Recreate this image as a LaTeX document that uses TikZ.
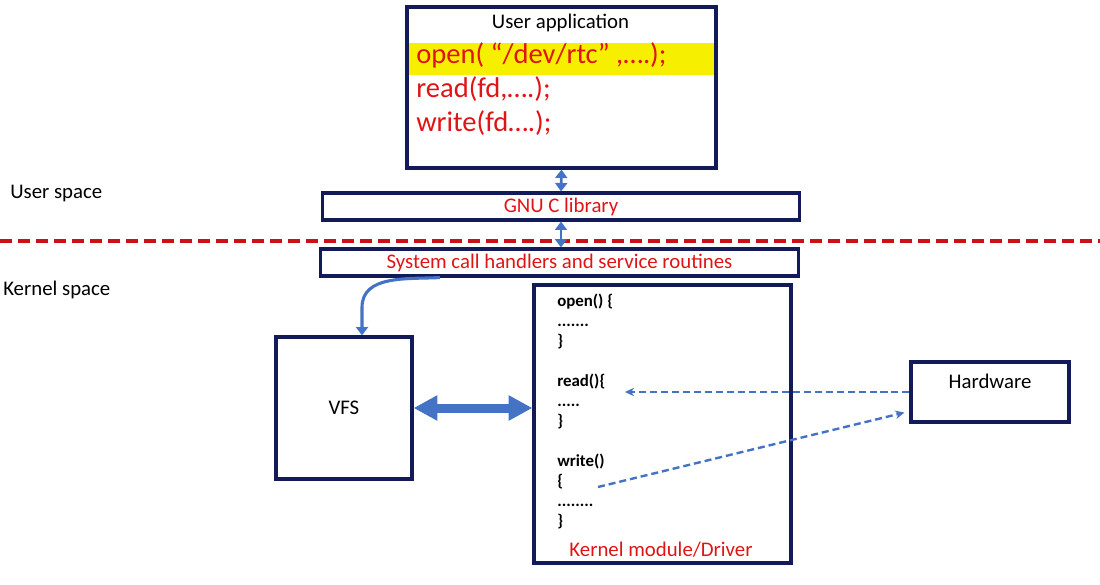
\documentclass[tikz,border=0pt]{standalone}
\usepackage{fontspec}
\setmainfont{Carlito}
\usetikzlibrary{arrows.meta, calc}

\definecolor{boxnavy}{RGB}{18,26,88}
\definecolor{codered}{RGB}{224,20,20}
\definecolor{linered}{RGB}{204,16,24}
\definecolor{arrowblue}{RGB}{68,114,196}
\definecolor{marker}{RGB}{246,240,0}

\tikzset{
  box/.style={draw=boxnavy, line width=2.2pt, inner sep=0pt},
  lbl/.style={font=\fontsize{14.8}{17}\selectfont, inner sep=0pt},
  redlbl/.style={lbl, text=codered},
  codeln/.style={font=\fontsize{20.3}{24}\selectfont, text=codered, anchor=base west, inner sep=0pt},
  updown/.style={arrowblue, line width=2pt, {Triangle[width=8.5pt,length=6pt]}-{Triangle[width=8.5pt,length=6pt]}},
  signal/.style={arrowblue, line width=1.7pt, dash pattern=on 5pt off 2.8pt, -{Stealth[length=6.5pt,width=6pt]}}
}

\begin{document}
\begin{tikzpicture}[x=0.025cm, y=-0.025cm]
    \useasboundingbox (0,0) rectangle (1100,585);
    \coordinate (rdin) at (625,392);
    \coordinate (wrout) at (598,487);

    % user side
    \fill [marker] (409,43) rectangle (715,75);
    \node [box, minimum width=7.725cm, minimum height=4.025cm] (app) at (561.5,87.5) {};
    \node [lbl, anchor=base] (apptitle) at (560.5,28) {User application};
    \node [codeln] (openln) at (416,63.5) {open( “/dev/rtc” ,….);};
    \node [codeln] (readln) at (416,97.5) {read(fd,….);};
    \node [codeln] (writeln) at (416,131.5) {write(fd….);};
    \node [box, redlbl, minimum width=11.9cm, minimum height=0.675cm] (glibc) at (561,206.5) {GNU C library};
    \node [lbl, anchor=west] (userspace) at (10,193) {User space};

    % boundary
    \draw [linered, line width=2.5pt, dash pattern=on 8.5pt off 4.3pt] (0,241) -- (1100,241);

    % kernel side
    \node [lbl, anchor=west] (kernelspace) at (3,290) {Kernel space};
    \node [box, redlbl, minimum width=11.925cm, minimum height=0.675cm] (sys) at (559.5,262.5) {System call handlers and service routines};
    \node [box, lbl, minimum width=3.4cm, minimum height=3.55cm] (vfs) at (344,408) {VFS};
    \node [box, minimum width=6.425cm, minimum height=6.95cm] (drv) at (662.5,424) {};
    \node [anchor=north west, align=left, inner sep=0pt, font=\bfseries\fontsize{12}{14.18}\selectfont] (code) at (557,294)
      {open() \{\\.......\\\}\\[14.18pt]read()\{\\.....\\\}\\[14.18pt]write()\\\{\\........\\\}};
    \node [redlbl, anchor=base] (drvlabel) at (661,556) {Kernel module/Driver};
    \node [box, minimum width=3.95cm, minimum height=1.5cm] (hw) at (990,392) {};
    \node [lbl, anchor=base] (hwlabel) at (990,388) {Hardware};

    % arrows
    \draw [updown] (app.south) -- (glibc.north);
    \draw [updown] (glibc.south) -- (glibc.south |- sys.north);
    \draw [arrowblue, line width=2.2pt, -{Triangle[width=8.5pt,length=6pt]}]
      ([xshift=-2.99cm]sys.south) to[out=183, in=90] ($(vfs.north)+(18,-28)$) -- ([xshift=0.45cm]vfs.north);
    \draw [arrowblue, line width=6.4pt, {Triangle[width=17pt,length=17pt]}-{Triangle[width=17pt,length=17pt]}]
      (vfs.east) -- (vfs.east -| drv.west);
    \draw [signal] (hw.west) -- (rdin);
    \draw [signal] (wrout) -- ($(hw.south west)+(-5,-11)$);
\end{tikzpicture}
\end{document}
